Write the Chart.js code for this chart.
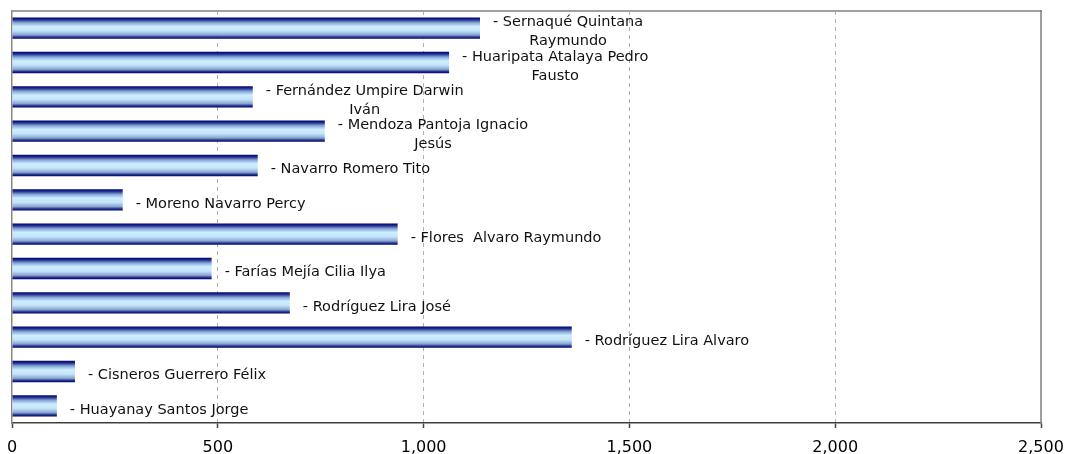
<!DOCTYPE html>
<html><head><meta charset="utf-8">
<script src="https://cdn.jsdelivr.net/npm/chart.js@4/dist/chart.umd.min.js"></script>
<style>html,body{margin:0;padding:0;background:#fff}canvas{display:block}</style>
</head><body>
<canvas id="c" width="1069" height="454"></canvas>
<script>
const categories = [
  ["- Sernaqué Quintana", "Raymundo"],
  ["- Huaripata Atalaya Pedro", "Fausto"],
  ["- Fernández Umpire Darwin", "Iván"],
  ["- Mendoza Pantoja Ignacio", "Jesús"],
  ["- Navarro Romero Tito"],
  ["- Moreno Navarro Percy"],
  ["- Flores  Alvaro Raymundo"],
  ["- Farías Mejía Cilia Ilya"],
  ["- Rodríguez Lira José"],
  ["- Rodríguez Lira Alvaro"],
  ["- Cisneros Guerrero Félix"],
  ["- Huayanay Santos Jorge"]
];
const values = [1137, 1062, 585, 760, 597, 269, 937, 485, 675, 1360, 153, 109];
const tickValues = [0, 500, 1000, 1500, 2000, 2500];

const BAR_FRAC = 0.62;

function barGradient(ctx) {
  const chart = ctx.chart;
  const area = chart.chartArea;
  if (!area || ctx.type !== 'data') return '#7f9cc8';
  const ys = chart.scales.y;
  const yc = ys.getPixelForValue(ctx.dataIndex);
  const step = (area.bottom - area.top) / values.length;
  const h = step * BAR_FRAC / 2;
  const g = chart.ctx.createLinearGradient(0, yc - h, 0, yc + h);
  g.addColorStop(0, '#000070');
  g.addColorStop(0.1, '#1e2e8e');
  g.addColorStop(0.24, '#86a4d6');
  g.addColorStop(0.42, '#cdeeff');
  g.addColorStop(0.62, '#c4e4fb');
  g.addColorStop(0.82, '#8aa4ce');
  g.addColorStop(0.92, '#25358c');
  g.addColorStop(1, '#000070');
  return g;
}

const labelPlugin = {
  id: 'barLabels',
  afterDatasetsDraw(chart) {
    const ctx = chart.ctx;
    const meta = chart.getDatasetMeta(0);
    ctx.save();
    ctx.font = '14.5px "DejaVu Sans"';
    ctx.fillStyle = '#111';
    ctx.textBaseline = 'middle';
    const lh = 19;
    meta.data.forEach((bar, i) => {
      const lines = categories[i];
      const x0 = bar.x + 13;
      const w0 = ctx.measureText(lines[0]).width;
      const cx = x0 + w0 / 2;
      const n = lines.length;
      const yStart = bar.y + 4 - (n - 1) * lh / 2;
      lines.forEach((ln, j) => {
        ctx.textAlign = j === 0 ? 'left' : 'center';
        ctx.fillText(ln, j === 0 ? x0 : cx, yStart + j * lh);
      });
    });
    ctx.restore();
  }
};

const framePlugin = {
  id: 'frame',
  afterDraw(chart) {
    const {ctx, chartArea: a} = chart;
    ctx.save();
    ctx.strokeStyle = '#a0a0a0';
    ctx.lineWidth = 2;
    ctx.beginPath();
    ctx.moveTo(a.left, a.top);
    ctx.lineTo(a.right + 1, a.top);
    ctx.stroke();
    ctx.strokeStyle = '#808080';
    ctx.lineWidth = 1.5;
    ctx.beginPath();
    ctx.moveTo(a.right, a.top - 1);
    ctx.lineTo(a.right, a.bottom);
    ctx.stroke();
    ctx.restore();
  }
};

new Chart(document.getElementById('c'), {
  type: 'bar',
  data: {
    labels: categories.map(c => c.join(' ')),
    datasets: [{
      data: values,
      backgroundColor: barGradient,
      borderWidth: 0,
      categoryPercentage: 1,
      barPercentage: BAR_FRAC
    }]
  },
  options: {
    indexAxis: 'y',
    responsive: false,
    animation: false,
    devicePixelRatio: 1,
    layout: {padding: {left: 12, right: 28, top: 11, bottom: 0}},
    plugins: {legend: {display: false}, tooltip: {enabled: false}},
    scales: {
      x: {
        min: 0, max: 2500,
        afterBuildTicks: s => { s.ticks = tickValues.map(v => ({value: v})); },
        ticks: {
          font: {family: 'DejaVu Sans', size: 16},
          color: '#000',
          padding: 10,
          maxRotation: 0,
          autoSkip: false,
          callback: v => Number(v).toLocaleString('en-US')
        },
        grid: {
          color: c => (c.tick && (c.tick.value === 0 || c.tick.value === 2500)) ? 'rgba(0,0,0,0)' : '#b0b0b0',
          lineWidth: 1,
          drawTicks: true,
          tickLength: 5,
          tickColor: '#444',
          tickWidth: 1.5
        },
        border: {color: '#404040', width: 1.5, dash: [4, 4]},
        afterFit: s => { s.height = 31; s.paddingLeft = 0; s.paddingRight = 0; }
      },
      y: {
        ticks: {display: false},
        grid: {display: false},
        border: {color: '#888', width: 1.5},
        afterFit: s => { s.width = 0; }
      }
    }
  },
  plugins: [labelPlugin, framePlugin]
});
</script>
</body></html>
